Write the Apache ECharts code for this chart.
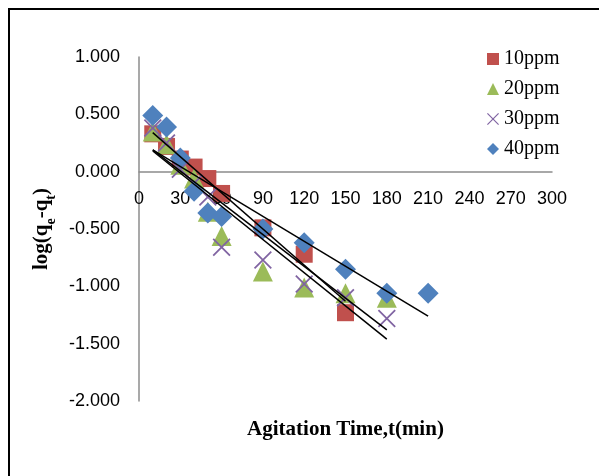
<!DOCTYPE html>
<html>
<head>
<meta charset="utf-8">
<script src="https://cdn.jsdelivr.net/npm/echarts@6/dist/echarts.min.js"></script>
<style>
  html, body { margin: 0; padding: 0; background: #fff; }
  #main { width: 599px; height: 476px; }
</style>
</head>
<body>
<div id="main"></div>
<script>
// pseudo-second-order data
var seriesNames = ['10ppm', '20ppm', '30ppm', '40ppm'];

var data10 = [[10, 0.33], [20, 0.22], [30, 0.11], [40, 0.04], [50, -0.06], [60, -0.19], [90, -0.49], [120, -0.72], [150, -1.23]];
var data20 = [[10, 0.35], [20, 0.24], [30, 0.06], [40, -0.06], [50, -0.35], [60, -0.56], [90, -0.87], [120, -1.01], [150, -1.06], [180, -1.10]];
var data30 = [[10, 0.38], [20, 0.25], [30, 0.02], [40, -0.10], [50, -0.22], [60, -0.66], [90, -0.77], [120, -0.98], [150, -1.10], [180, -1.28]];
var data40 = [[10, 0.49], [20, 0.39], [30, 0.12], [40, -0.17], [50, -0.36], [60, -0.39], [90, -0.50], [120, -0.62], [150, -0.85], [180, -1.06], [210, -1.06]];

// linear trendlines (end points)
var trend10 = [[10, 0.34], [150, -1.13]];
var trend20 = [[10, 0.19], [180, -1.38]];
var trend30 = [[10, 0.18], [180, -1.46]];
var trend40 = [[10, 0.19], [210, -1.26]];

var colors = ['#C0504D', '#9BBB59', '#8064A2', '#4F81BD'];
var crossPath = 'path://M0,0.7 L0.7,0 L10,9.3 L9.3,10 Z M9.3,0 L10,0.7 L0.7,10 L0,9.3 Z';

var gridTop = 57, gridBottom = 75, chartH = 476;
var plotH = chartH - gridTop - gridBottom;
// the x axis sits on y = 0 (one third down from the top of -2..1)
var xAxisOffset = -(plotH * 2 / 3);

var chart = echarts.init(document.getElementById('main'));

function scatter(name, data, symbol, size, color) {
    return {
        name: name,
        type: 'scatter',
        data: data,
        symbol: symbol,
        symbolSize: size,
        itemStyle: { color: color, opacity: 1 },
        z: 2
    };
}
function trend(data) {
    return {
        type: 'line',
        data: data,
        showSymbol: false,
        symbol: 'none',
        lineStyle: { color: '#000', width: 1.5 },
        silent: true,
        z: 5
    };
}

var option = {
    animation: false,
    graphic: [{
        type: 'rect',
        shape: { x: 9, y: 9, width: 620, height: 520 },
        style: { fill: 'none', stroke: '#000', lineWidth: 2 }
    }],
    grid: { left: 139, right: 47, top: gridTop, bottom: gridBottom, outerBoundsMode: 'none', containLabel: false },
    legend: {
        data: seriesNames,
        orient: 'vertical',
        left: 482,
        top: 44,
        itemWidth: 12,
        itemHeight: 12,
        itemGap: 10,
        textStyle: { fontFamily: 'Liberation Serif', fontSize: 20, color: '#000', lineHeight: 20 }
    },
    xAxis: {
        type: 'value',
        position: 'bottom',
        offset: xAxisOffset,
        min: 0, max: 300, interval: 30,
        splitLine: { show: false },
        axisTick: { show: false },
        axisLine: { onZero: false, lineStyle: { color: '#8c8c8c', width: 1.5 } },
        axisLabel: { fontFamily: 'Liberation Sans', fontSize: 18, color: '#000', margin: 18, showMinLabel: true, showMaxLabel: true },
        name: 'Agitation Time,t(min)',
        nameLocation: 'middle',
        nameGap: 247,
        nameTextStyle: { fontFamily: 'Liberation Serif', fontWeight: 'bold', fontSize: 21, color: '#000' }
    },
    yAxis: {
        type: 'value',
        min: -2, max: 1, interval: 0.5,
        splitLine: { show: false },
        axisTick: { show: false },
        axisLine: { show: true, onZero: false, lineStyle: { color: '#8c8c8c', width: 1.5 } },
        axisLabel: {
            fontFamily: 'Liberation Sans', fontSize: 18, color: '#000', margin: 19,
            formatter: function (v) { return v.toFixed(3); }
        },
        name: '{a|log(q}{s|e}{a|-q}{s|t}{a|)}',
        nameLocation: 'middle',
        nameGap: 86,
        nameRotate: 90,
        nameTextStyle: {
            rich: {
                a: { fontFamily: 'Liberation Serif', fontWeight: 'bold', fontSize: 21, color: '#000', lineHeight: 24, verticalAlign: 'bottom' },
                s: { fontFamily: 'Liberation Serif', fontWeight: 'bold', fontSize: 14, color: '#000', lineHeight: 24, verticalAlign: 'bottom', padding: [0, 0, -6, 0] }
            }
        }
    },
    series: [
        scatter('10ppm', data10, 'rect', 17, colors[0]),
        scatter('20ppm', data20, 'triangle', 20, colors[1]),
        scatter('30ppm', data30, crossPath, 18, colors[2]),
        scatter('40ppm', data40, 'diamond', 21, colors[3]),
        trend(trend10),
        trend(trend20),
        trend(trend30),
        trend(trend40)
    ]
};

chart.setOption(option);
</script>
</body>
</html>
